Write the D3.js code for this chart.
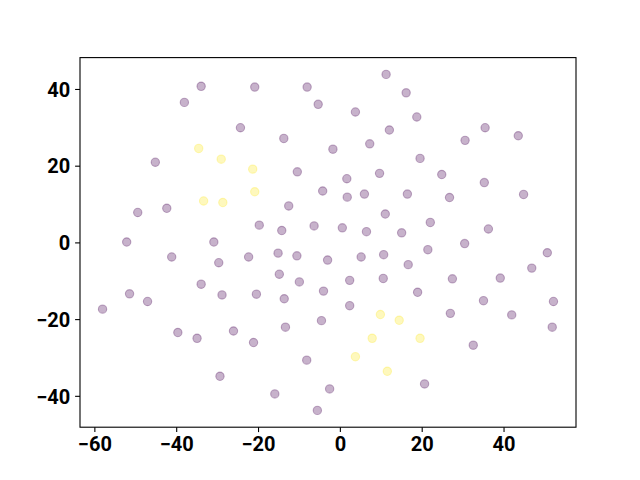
<!DOCTYPE html>
<html>
<head>
<meta charset="utf-8">
<script src="https://cdn.jsdelivr.net/npm/d3@7"></script>
<style>
html, body { margin: 0; padding: 0; background: #fff; }
svg { display: block; }
</style>
</head>
<body>
<svg id="chart" width="640" height="480"></svg>
<script>
// Class 0 (purple) points
const purpleX = [-33.9,-38.0,-24.3,-45.1,-20.8,-8.0,11.3,16.2,-5.3,3.8,-13.7,12.1,7.3,-1.7,-10.4,1.7,9.7,18.8,35.5,30.6,43.6,19.6,24.9,35.3,
  -49.4,-42.3,-52.1,-30.8,-41.1,-29.6,-22.3,-33.9,-51.4,-28.8,-47.0,-58.0,-4.2,1.8,6.0,16.5,-12.5,11.1,-19.7,-14.2,-6.3,0.6,6.5,15.1,
  -15.1,-10.5,-3.0,5.2,10.7,16.7,-14.8,-9.9,2.4,10.6,-20.4,-13.6,-4.0,2.4,26.8,44.9,22.1,36.3,30.5,21.5,50.7,46.9,27.5,39.2,19.0,35.1,52.2,
  -39.6,-34.9,-26.0,-29.3,-13.3,-4.5,-21.1,-8.1,-15.9,-2.5,-5.5,27.0,42.0,51.9,32.6,20.7];
const purpleY = [40.7,36.5,29.9,20.9,40.5,40.5,43.8,39.0,36.0,34.0,27.1,29.3,25.7,24.3,18.4,16.6,18.0,32.7,29.9,26.6,27.8,21.9,17.7,15.6,
  7.8,8.9,0.1,0.1,-3.8,-5.3,-3.8,-10.9,-13.4,-13.7,-15.4,-17.4,13.4,11.8,12.6,12.6,9.5,7.4,4.5,3.1,4.3,3.8,2.8,2.5,
  -2.8,-3.5,-4.6,-3.8,-3.2,-5.8,-8.3,-10.3,-9.9,-9.4,-13.5,-14.7,-12.7,-16.5,11.7,12.5,5.2,3.5,-0.3,-1.9,-2.7,-6.7,-9.5,-9.3,-13.0,-15.2,-15.4,
  -23.5,-25.0,-23.1,-34.9,-22.1,-20.4,-26.1,-30.7,-39.5,-38.2,-43.8,-18.5,-18.9,-22.1,-26.8,-36.9];
// Class 1 (yellow) points
const yellowX = [-34.5,-29.0,-21.3,-33.3,-28.6,-20.8,9.9,14.5,7.9,3.8,11.6,19.6];
const yellowY = [24.5,21.7,19.1,10.8,10.4,13.2,-18.8,-20.3,-25.0,-29.8,-33.6,-25.0];
// Tick values
const xTicks = [-60,-40,-20,0,20,40];
const yTicks = [-40,-20,0,20,40];

const colors = {purple: "#440154", yellow: "#fde725"};
const alpha = 0.3;

const svg = d3.select("#chart");
const L = 80, R = 576, T = 57.6, B = 427.2;

const allX = purpleX.concat(yellowX), allY = purpleY.concat(yellowY);
const [x0, x1] = d3.extent(allX), [y0, y1] = d3.extent(allY);
const px = (x1 - x0) * 0.05, py = (y1 - y0) * 0.05;
const x = d3.scaleLinear().domain([x0 - px, x1 + px]).range([L, R]);
const y = d3.scaleLinear().domain([y0 - py, y1 + py]).range([B, T]);

const fmt = d => d < 0 ? "\u2212" + Math.abs(d) : String(d);

const pts = [];
purpleX.forEach((v, i) => pts.push({x: v, y: purpleY[i], c: colors.purple}));
yellowX.forEach((v, i) => pts.push({x: v, y: yellowY[i], c: colors.yellow}));

svg.append("g").selectAll("circle").data(pts).enter().append("circle")
  .attr("cx", d => x(d.x)).attr("cy", d => y(d.y)).attr("r", 4.17)
  .attr("fill", d => d.c).attr("fill-opacity", alpha)
  .attr("stroke", d => d.c).attr("stroke-opacity", alpha).attr("stroke-width", 1.1);

const xAxis = svg.append("g").attr("transform", `translate(0,${B})`)
  .call(d3.axisBottom(x).tickValues(xTicks).tickFormat(fmt).tickSize(4.9).tickSizeOuter(0).tickPadding(4.9));
const yAxis = svg.append("g").attr("transform", `translate(${L},0)`)
  .call(d3.axisLeft(y).tickValues(yTicks).tickFormat(fmt).tickSize(4.9).tickSizeOuter(0).tickPadding(4.9));
[xAxis, yAxis].forEach(g => {
  g.select(".domain").remove();
  g.selectAll(".tick line").attr("stroke", "#000").attr("stroke-width", 1.1);
  g.selectAll(".tick text").attr("fill", "#000")
    .style("font-family", "Roboto, 'Liberation Sans', sans-serif")
    .style("font-weight", "bold").style("font-size", "20px");
});
xAxis.selectAll(".tick text").attr("dy", "0.71em");
yAxis.selectAll(".tick text").attr("dy", "0.36em");

svg.append("rect").attr("x", L).attr("y", T).attr("width", R - L).attr("height", B - T)
  .attr("fill", "none").attr("stroke", "#000").attr("stroke-width", 1.1);
</script>
</body>
</html>
